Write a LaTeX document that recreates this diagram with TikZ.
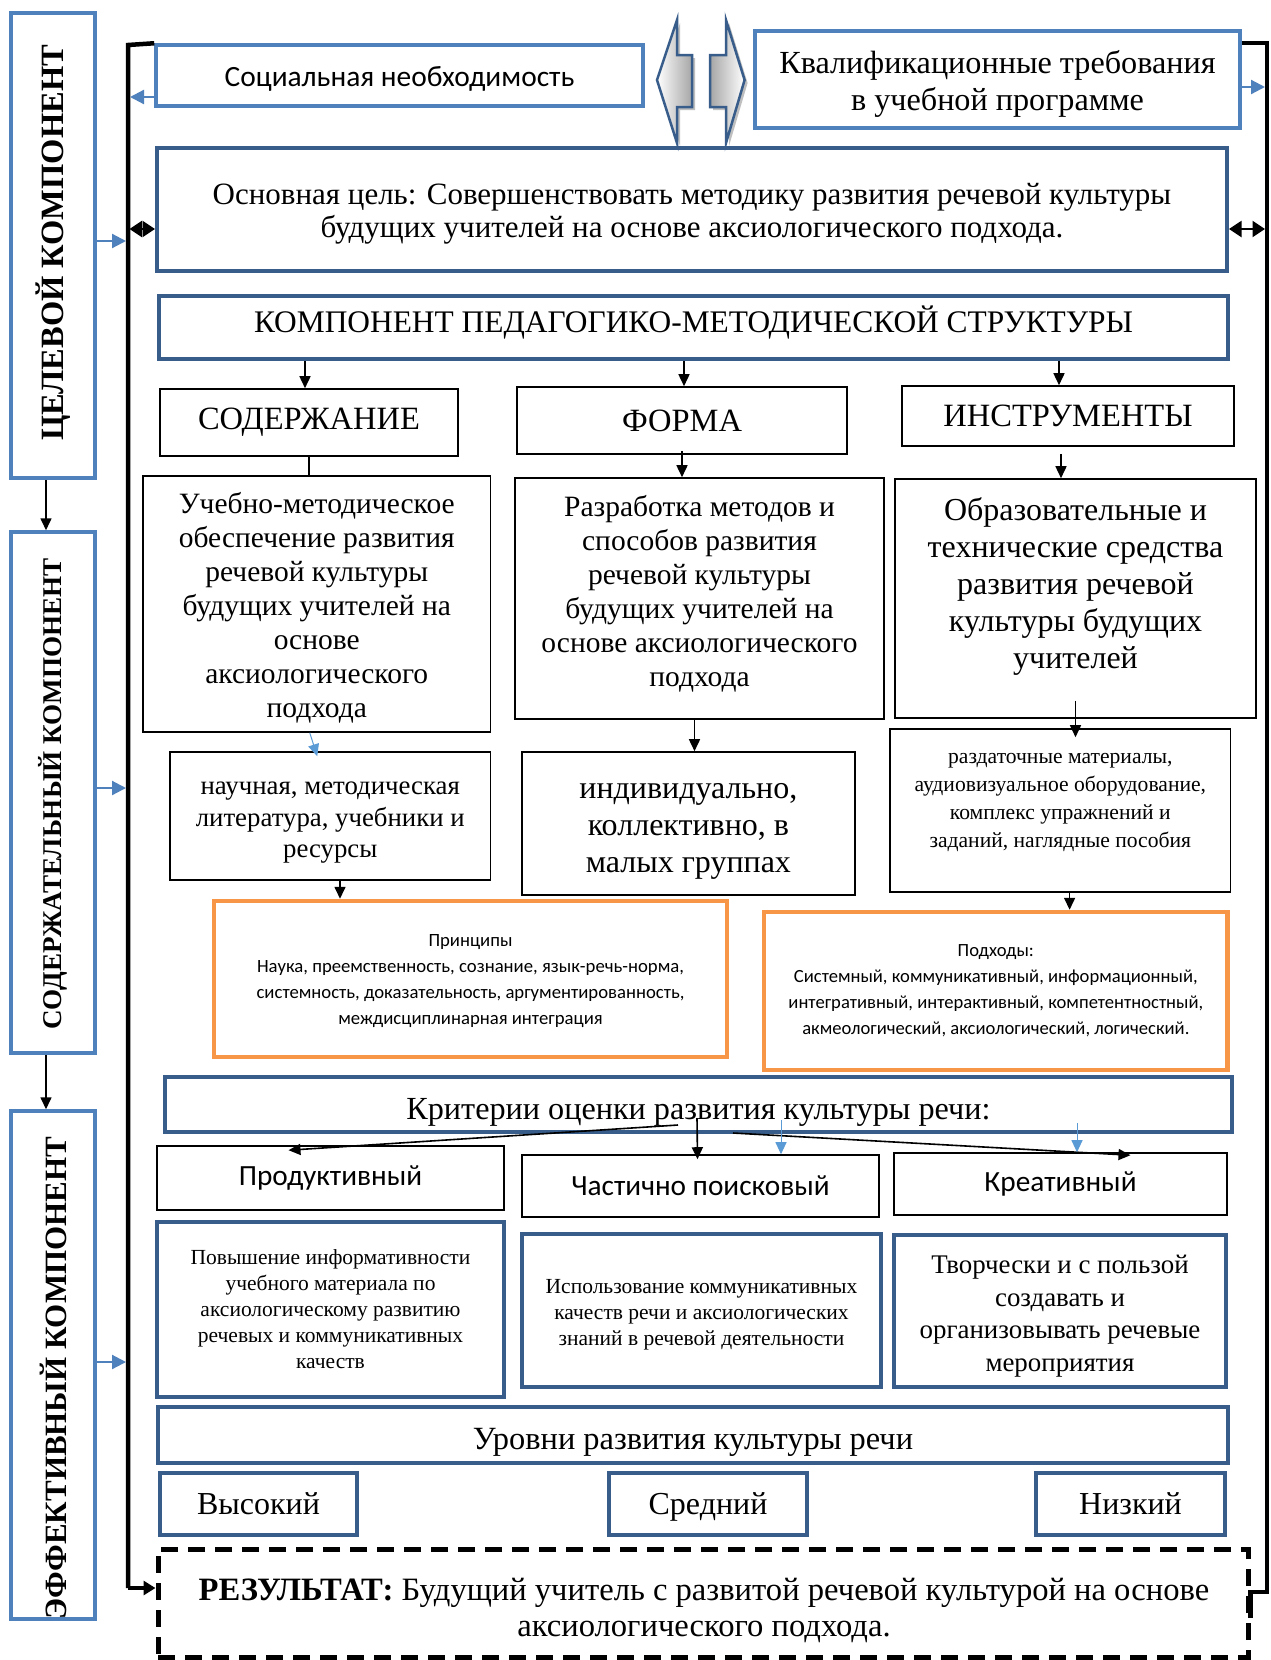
\documentclass[tikz,border=0pt]{standalone}
\usepackage{fontspec}
\setmainfont{Liberation Serif}
\newfontfamily\calib{Carlito}
\usetikzlibrary{arrows.meta,calc}
\definecolor{lblue}{RGB}{79,129,189}
\definecolor{dblue}{RGB}{56,93,138}
\definecolor{orng}{RGB}{247,150,70}
\definecolor{sblue}{RGB}{91,155,213}
\newcommand\fsz[2]{\fontsize{#1pt}{#2pt}\selectfont}
\begin{document}
\begin{tikzpicture}[x=1pt,y=-1pt,
 lbox/.style={draw=lblue,line width=3.5pt,inner sep=0pt,align=center},
 dbox/.style={draw=dblue,line width=4pt,inner sep=0pt,align=center},
 kbox/.style={draw=black,line width=1.6pt,inner sep=0pt,align=center},
 obox/.style={draw=orng,line width=4.5pt,inner sep=0pt,align=center},
 txt/.style={inner sep=0pt,align=center},
 sz/.style 2 args={minimum width=#1,minimum height=#2},
 arr/.style={line width=1.6pt,-{Triangle[length=12pt,width=11pt]}},
 barr/.style={draw=lblue,line width=2.2pt,-{Triangle[length=14pt,width=14pt]}},
 sarr/.style={draw=sblue,line width=1pt,-{Triangle[length=12pt,width=11pt]}},
 bline/.style={line width=4.5pt},
 dbl/.style={line width=2pt,{Triangle[length=12.5pt,width=16pt]}-{Triangle[length=12.5pt,width=16pt]}},
 barrow/.style={draw=dblue,line width=2.5pt,line join=miter}
]
\useasboundingbox (0,0) rectangle (1271,1660);
\fill[white] (0,0) rectangle (1271,1660);

% left vertical components
\node[lbox,sz={84pt}{465pt}] (cel) at (53,245.5) {};
\node[txt,rotate=90,font={\bfseries\fsz{32.5}{36}}] (celT) at (53,243) {ЦЕЛЕВОЙ КОМПОНЕНТ};
\node[lbox,sz={84pt}{521pt}] (sodk) at (53,792.5) {};
\node[txt,rotate=90,font={\bfseries\fsz{27.1}{30}}] (sodkT) at (53,794) {СОДЕРЖАТЕЛЬНЫЙ КОМПОНЕНТ};
\node[lbox,sz={84pt}{508pt}] (eff) at (53,1365) {};
\node[txt,rotate=90,font={\bfseries\fsz{31}{36}}] (effT) at (53,1378) {ЭФФЕКТИВНЫЙ КОМПОНЕНТ};

% top row
\node[lbox,sz={487pt}{61pt}] (soc) at (399.5,75.5) {};
\node[txt,font={\calib\fsz{29.4}{34}}] (socT) at (399.5,78.7) {Социальная необходимость};
\node[lbox,sz={485pt}{97pt}] (kval) at (997.5,79.5) {};
\node[txt,font={\fsz{32.2}{37}}] (kvalT) at (997.5,84.3) {Квалификационные требования\\в учебной программе};

% block arrows
\fill[black!25,shift={(3pt,-3pt)}] (657,80) -- (677,20) -- (677,55) -- (692,55) -- (692,107) -- (677,107) -- (677,143) -- cycle;
\draw[barrow,left color=white,right color=black!35] (657,80) -- (677,20) -- (677,55) -- (692,55) -- (692,107) -- (677,107) -- (677,143) -- cycle;
\fill[black!25,shift={(3pt,-3pt)}] (744.6,80) -- (726,20) -- (726,55) -- (710,55) -- (710,107) -- (726,107) -- (726,143) -- cycle;
\draw[barrow,left color=black!35,right color=white] (744.6,80) -- (726,20) -- (726,55) -- (710,55) -- (710,107) -- (726,107) -- (726,143) -- cycle;

\node[dbox,sz={1070pt}{123pt}] (osn) at (692,209.5) {};
\node[txt,font={\fsz{31}{33}}] (osnT) at (692,213.5) {Основная цель: Совершенствовать методику развития речевой культуры\\будущих учителей на основе аксиологического подхода.};
\node[dbox,sz={1069pt}{63pt}] (komp) at (693.5,327.5) {};
\node[txt,font={\fsz{31.4}{35}}] (kompT) at (693.5,323) {КОМПОНЕНТ ПЕДАГОГИКО-МЕТОДИЧЕСКОЙ СТРУКТУРЫ};
\node[kbox,sz={298pt}{67pt},font={\fsz{32.5}{36}}] (sod) at (309,422.5) {СОДЕРЖАНИЕ};
\node[kbox,sz={330pt}{67pt},font={\fsz{32.5}{36}}] (forma) at (682,420.5) {ФОРМА};
\node[kbox,sz={332pt}{60pt},font={\fsz{32.5}{36}}] (instr) at (1068,416) {ИНСТРУМЕНТЫ};

\node[kbox,sz={347.5pt}{256pt}] (ucheb) at (316.75,604) {};
\node[txt,font={\fsz{29.5}{34}}] (uchebT) at (316.75,608) {Учебно-методическое\\обеспечение развития\\речевой культуры\\будущих учителей на\\основе\\аксиологического\\подхода};
\node[kbox,sz={369pt}{241pt}] (razr) at (699.5,598.5) {};
\node[txt,font={\fsz{29.5}{34}}] (razrT) at (699.5,593.6) {Разработка методов и\\способов развития\\речевой культуры\\будущих учителей на\\основе аксиологического\\подхода};
\node[kbox,sz={361pt}{239pt}] (obraz) at (1075.5,598.5) {};
\node[txt,font={\fsz{32}{37}}] (obrazT) at (1075.5,586) {Образовательные и\\технические средства\\развития речевой\\культуры будущих\\учителей};

\node[kbox,sz={320.5pt}{128pt}] (nauch) at (330.25,816) {};
\node[txt,font={\fsz{26.8}{31.5}}] (nauchT) at (330.25,823) {научная, методическая\\литература, учебники и\\ресурсы};
\node[kbox,sz={333pt}{143pt}] (indiv) at (688.4,823.5) {};
\node[txt,font={\fsz{32}{37}}] (indivT) at (688.4,831.5) {индивидуально,\\коллективно, в\\малых группах};
\node[kbox,sz={340.6pt}{163pt}] (razd) at (1060.3,810.5) {};
\node[txt,font={\fsz{21.6}{28}}] (razdT) at (1060.3,802) {раздаточные материалы,\\аудиовизуальное оборудование,\\комплекс упражнений и\\заданий, наглядные пособия};

\node[obox,sz={513pt}{156pt}] (princ) at (470.5,979) {};
\node[txt,font={\calib\fsz{18.7}{26}}] (princT) at (470.5,980.6) {Принципы\\Наука, преемственность, сознание, язык-речь-норма,\\системность, доказательность, аргументированность,\\междисциплинарная интеграция};
\node[obox,sz={463.6pt}{158pt},font={\calib\fsz{18.6}{26}}] (podh) at (995.8,991) {Подходы:\\Системный, коммуникативный, информационный,\\интегративный, интерактивный, компетентностный,\\акмеологический, аксиологический, логический.};

\node[dbox,sz={1067pt}{55pt}] (krit) at (698.5,1104.5) {};
\node[txt,font={\fsz{32.2}{35}}] (kritT) at (698.5,1112) {Критерии оценки развития культуры речи:};

\node[kbox,sz={347pt}{64pt},font={\calib\fsz{29.3}{33}}] (produkt) at (330.5,1178) {Продуктивный};
\node[kbox,sz={357pt}{62pt},font={\calib\fsz{29.3}{33}}] (chast) at (700.5,1186) {Частично поисковый};
\node[kbox,sz={333pt}{62pt},font={\calib\fsz{29.3}{33}}] (kreat) at (1060.5,1184) {Креативный};

\node[dbox,sz={347pt}{175pt},font={\fsz{21.5}{26}}] (povysh) at (330.5,1309.5) {Повышение информативности\\учебного материала по\\аксиологическому развитию\\речевых и коммуникативных\\качеств};
\node[dbox,sz={359pt}{153pt}] (ispol) at (701.5,1310.5) {};
\node[txt,font={\fsz{21.5}{26}}] (ispolT) at (701.5,1314.5) {Использование коммуникативных\\качеств речи и аксиологических\\знаний в речевой деятельности};
\node[dbox,sz={332pt}{152pt}] (tvor) at (1060,1311) {};
\node[txt,font={\fsz{26.9}{32.5}}] (tvorT) at (1060,1316.3) {Творчески и с пользой\\создавать и\\организовывать речевые\\мероприятия};

\node[dbox,sz={1070pt}{56pt}] (urov) at (693,1435) {};
\node[txt,font={\fsz{32.4}{36}}] (urovT) at (693,1442) {Уровни развития культуры речи};
\node[dbox,sz={197pt}{62pt},font={\fsz{32}{36}},text depth=0pt] (vys) at (258.5,1504) {Высокий};
\node[dbox,sz={198pt}{62pt},font={\fsz{32}{36}},text depth=0pt] (sred) at (708,1504) {Средний};
\node[dbox,sz={189pt}{62pt},font={\fsz{32}{36}},text depth=0pt] (niz) at (1130.5,1504) {Низкий};

\node[draw,line width=5pt,dash pattern=on 17pt off 10pt,sz={1090pt}{108pt}] (res) at (703,1603) {};
\node[txt,font={\fsz{32.6}{36}}] (resT) at (704,1610) {\textbf{РЕЗУЛЬТАТ:} Будущий учитель с развитой речевой культурой на основе\\аксиологического подхода.};

% black frame lines
\coordinate (Lt) at (128,45);
\coordinate (Lb) at (128,1588);
\coordinate (Rt) at (1267,43);
\coordinate (Rb) at (1267,1592);
\draw[bline] (soc.north west) -- (Lt) -- (Lb);
\draw[bline,-{Triangle[length=12pt,width=14pt]}] (Lb) -- (res.west |- Lb);
\draw[bline] (kval.north east |- Rt) -- (Rt) -- (Rb) -- (res.east |- Rb) -- ++(0,26);

% blue arrows to frame
\draw[barr,shorten >=2pt] (cel.east |- 0,241) -- (Lt |- 0,241);
\draw[barr,shorten >=2pt] (sodk.east |- 0,788) -- (Lt |- 0,788);
\draw[barr,shorten >=2pt] (eff.east |- 0,1362) -- (Lt |- 0,1362);
\draw[barr,shorten >=2pt] ([yshift=-21.5pt]soc.west) -- (Lt |- 0,97);
\draw[barr,shorten >=2pt] ([yshift=-7.5pt]kval.east) -- (Rt |- 0,87);

% double arrows
\draw[dbl,shorten <=1.5pt] (Lt |- 0,229) -- (osn.west |- 0,229);
\draw[dbl,shorten >=2pt] (osn.east |- 0,229) -- (Rt |- 0,229);

% left chain
\draw[arr] ([xshift=-7pt]cel.south) -- ([xshift=-7pt]sodk.north);
\draw[arr] ([xshift=-7pt]sodk.south) -- ([xshift=-7pt]eff.north);

% structure arrows
\draw[arr] (305,0 |- komp.south) -- (305,0 |- sod.north);
\draw[arr] (684,0 |- komp.south) -- (684,0 |- forma.north);
\draw[arr] (1059,0 |- komp.south) -- (1059,0 |- instr.north);
\draw[line width=1.6pt] (sod.south) -- (sod.south |- ucheb.north);
\draw[arr] ([yshift=4pt]forma.south) -- (forma.south |- razr.north);
\draw[arr] ([xshift=-7pt,yshift=-7pt]instr.south) -- (1061,0 |- obraz.north);
\draw[sarr] ($(ucheb.south)+(-7,0)$) -- ($(nauch.north)+(-13,5)$);
\draw[arr] (694.5,0 |- razr.south) -- (694.5,0 |- indiv.north);
\draw[arr] ([yshift=18pt]obraz.south) -- ([yshift=-9pt]obraz.south |- razd.north);
\draw[arr] (340,0 |- nauch.south) -- (340,0 |- princ.north);
\draw[arr] (1069.6,0 |- razd.south) -- (1069.6,0 |- podh.north);

% criteria arrows
\coordinate (k1) at (678,1125);
\coordinate (k2) at (697,1118);
\coordinate (k3) at (733,1133);
\draw[arr] (k1) -- ($(produkt.north)+(-42,5)$);
\draw[arr] (k2) -- ($(chast.north)+(-3,5)$);
\draw[arr] (k3) -- ($(kreat.north)+(70,3)$);
\draw[sarr] (781,1120) -- (781,0 |- chast.north);
\draw[sarr] (1077,1123) -- (1077,0 |- kreat.north);
\end{tikzpicture}
\end{document}
